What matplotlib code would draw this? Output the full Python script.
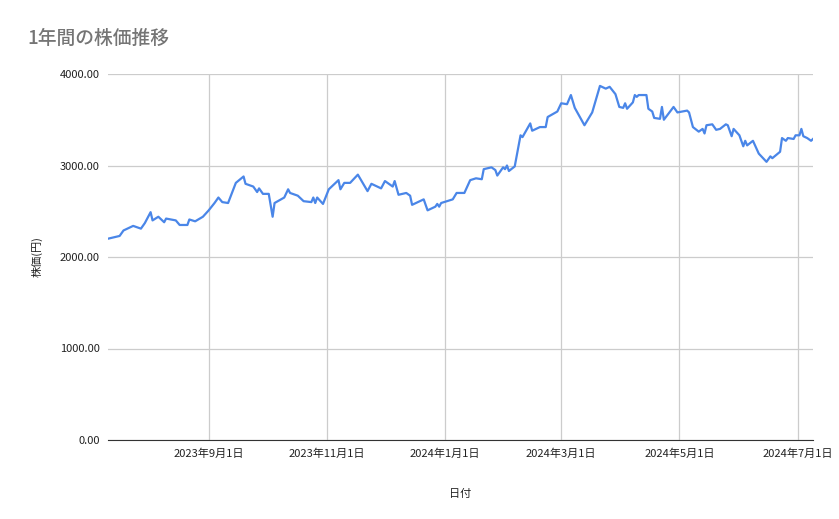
import matplotlib
matplotlib.use("Agg")
import matplotlib.pyplot as plt
import matplotlib.dates as mdates
import numpy as np
import pandas as pd

plt.rcParams['font.family'] = ['Noto Sans CJK JP', 'DejaVu Sans']

dates = [
    "2023-07-11", "2023-07-17", "2023-07-19", "2023-07-24", "2023-07-28", "2023-07-30",
    "2023-08-02", "2023-08-03", "2023-08-06", "2023-08-09", "2023-08-10", "2023-08-15",
    "2023-08-17", "2023-08-21", "2023-08-22", "2023-08-25", "2023-08-29", "2023-09-01",
    "2023-09-04", "2023-09-06", "2023-09-08", "2023-09-11", "2023-09-15", "2023-09-19",
    "2023-09-20", "2023-09-24", "2023-09-26", "2023-09-27", "2023-09-29", "2023-10-02",
    "2023-10-04", "2023-10-05", "2023-10-10", "2023-10-12", "2023-10-13", "2023-10-17",
    "2023-10-20", "2023-10-24", "2023-10-25", "2023-10-26", "2023-10-27", "2023-10-30",
    "2023-11-02", "2023-11-07", "2023-11-08", "2023-11-10", "2023-11-13", "2023-11-17",
    "2023-11-22", "2023-11-24", "2023-11-29", "2023-12-01", "2023-12-05", "2023-12-06",
    "2023-12-08", "2023-12-12", "2023-12-14", "2023-12-15", "2023-12-21", "2023-12-23",
    "2023-12-27", "2023-12-28", "2023-12-29", "2023-12-30", "2024-01-05", "2024-01-07",
    "2024-01-11", "2024-01-14", "2024-01-17", "2024-01-20", "2024-01-21", "2024-01-25",
    "2024-01-27", "2024-01-28", "2024-01-31", "2024-02-01", "2024-02-02", "2024-02-03",
    "2024-02-06", "2024-02-09", "2024-02-10", "2024-02-14", "2024-02-15", "2024-02-19",
    "2024-02-22", "2024-02-23", "2024-02-28", "2024-03-01", "2024-03-04", "2024-03-06",
    "2024-03-08", "2024-03-13", "2024-03-17", "2024-03-21", "2024-03-24", "2024-03-26",
    "2024-03-29", "2024-03-31", "2024-04-02", "2024-04-03", "2024-04-04", "2024-04-07",
    "2024-04-08", "2024-04-09", "2024-04-10", "2024-04-14", "2024-04-15", "2024-04-17",
    "2024-04-18", "2024-04-21", "2024-04-22", "2024-04-23", "2024-04-28", "2024-04-30",
    "2024-05-05", "2024-05-06", "2024-05-08", "2024-05-11", "2024-05-13", "2024-05-14",
    "2024-05-15", "2024-05-18", "2024-05-20", "2024-05-22", "2024-05-25", "2024-05-26",
    "2024-05-28", "2024-05-29", "2024-06-01", "2024-06-03", "2024-06-04", "2024-06-05",
    "2024-06-08", "2024-06-11", "2024-06-15", "2024-06-17", "2024-06-18", "2024-06-22",
    "2024-06-23", "2024-06-25", "2024-06-26", "2024-06-29", "2024-06-30", "2024-07-02",
    "2024-07-03", "2024-07-04", "2024-07-06", "2024-07-08", "2024-07-09",
]
prices = [
    2200, 2230, 2290, 2340, 2310, 2370,
    2490, 2400, 2440, 2380, 2420, 2400,
    2350, 2350, 2410, 2390, 2440, 2510,
    2590, 2650, 2600, 2590, 2810, 2880,
    2800, 2770, 2710, 2750, 2690, 2690,
    2440, 2590, 2650, 2740, 2700, 2670,
    2610, 2600, 2650, 2590, 2650, 2580,
    2740, 2840, 2740, 2810, 2810, 2900,
    2720, 2800, 2750, 2830, 2770, 2830,
    2680, 2700, 2670, 2570, 2630, 2510,
    2550, 2580, 2550, 2590, 2630, 2700,
    2700, 2840, 2860, 2850, 2960, 2980,
    2950, 2890, 2980, 2960, 3000, 2940,
    2990, 3330, 3310, 3460, 3380, 3420,
    3420, 3530, 3590, 3680, 3670, 3770,
    3630, 3440, 3580, 3870, 3840, 3860,
    3780, 3640, 3630, 3680, 3620, 3690,
    3770, 3750, 3770, 3770, 3620, 3590,
    3520, 3510, 3640, 3500, 3640, 3580,
    3600, 3580, 3420, 3370, 3400, 3350,
    3440, 3450, 3390, 3400, 3450, 3440,
    3320, 3400, 3330, 3210, 3270, 3220,
    3270, 3130, 3040, 3100, 3080, 3150,
    3300, 3270, 3300, 3290, 3330, 3330,
    3400, 3320, 3300, 3270, 3290,
]
tick_dates = ["2023-09-01", "2023-11-01", "2024-01-01", "2024-03-01", "2024-05-01", "2024-07-01"]
y_ticks = [0, 1000, 2000, 3000, 4000]

x = pd.to_datetime(dates)
ticks = pd.to_datetime(tick_dates)

fig = plt.figure(figsize=(8.39, 5.19), dpi=100)
ax = fig.add_axes([108 / 839, 79 / 519, 705 / 839, 366 / 519])
ax.plot(x, prices, color='#4a86e8', lw=1.6)

ax.set_xlim(pd.Timestamp("2023-07-11"), pd.Timestamp("2024-07-09"))
ax.set_ylim(0, 4000)
ax.set_xticks(ticks)
ax.set_xticklabels([f"{t.year}年{t.month}月{t.day}日" for t in ticks])
ax.set_yticks(y_ticks)
ax.set_yticklabels([f"{v:.2f}" for v in y_ticks])
ax.grid(color='#cccccc', lw=0.9)
ax.set_axisbelow(True)
for s in ['top', 'right', 'left']:
    ax.spines[s].set_visible(False)
ax.spines['bottom'].set_color('#333333')
ax.tick_params(length=0, labelsize=8, colors='#222222', pad=6)

ax.set_xlabel("日付", fontsize=8, labelpad=22, color='#222222')
ax.set_ylabel("株価(円)", fontsize=8, labelpad=12, color='#222222')
fig.text(27 / 839, 1 - 38 / 519, "1年間の株価推移", fontsize=13.5, fontweight='medium',
         color='#757575', va='center')

fig.savefig("out.png", dpi=100)
